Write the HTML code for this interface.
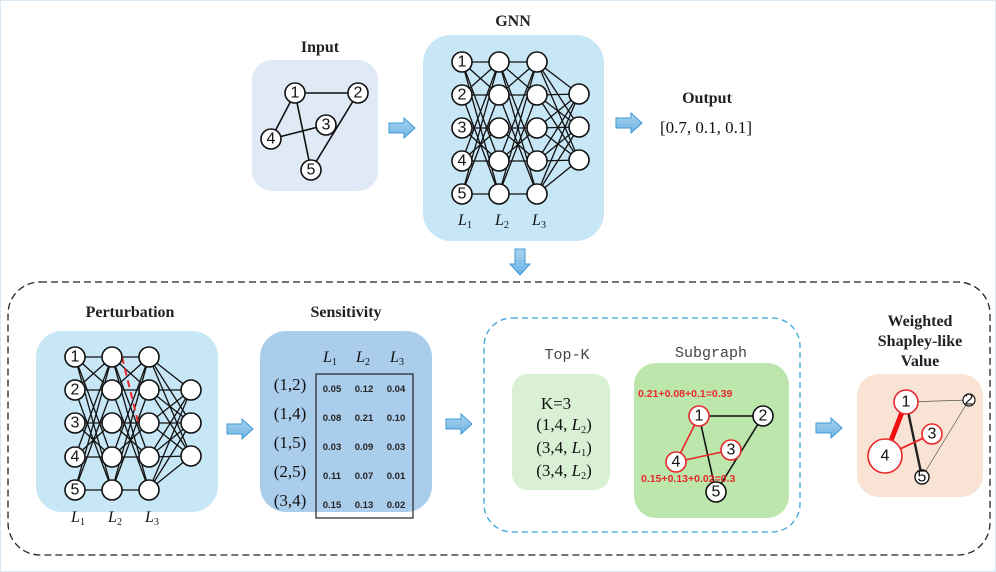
<!DOCTYPE html>
<html><head><meta charset="utf-8"><style>
html,body{margin:0;padding:0;background:#fff;}
svg{display:block;font-family:"Liberation Sans",sans-serif;}
.t{font-family:"Liberation Serif",serif;font-weight:bold;font-size:16px;fill:#222;text-anchor:middle}
.n{fill:#fff;stroke:#111;stroke-width:1.6}
.nl{font-size:16px;text-anchor:middle;dominant-baseline:central;fill:#111}
.L{font-family:"Liberation Serif",serif;font-style:italic;font-size:16px;fill:#111;text-anchor:middle}
.v{font-size:9.5px;font-weight:bold;fill:#222;text-anchor:middle}
.r{font-family:"Liberation Serif",serif;font-size:17px;fill:#111;text-anchor:middle}
</style></head><body>
<svg id="s" width="996" height="572" viewBox="0 0 996 572">
<defs>
<linearGradient id="ag" x1="0" y1="0" x2="0" y2="1"><stop offset="0" stop-color="#a9d4f0"/><stop offset="1" stop-color="#6fb3e3"/></linearGradient>
<symbol id="arr" viewBox="0 0 28 22"><path d="M1 6 H16 V1 L27 11 L16 21 V16 H1 Z" fill="url(#ag)" stroke="#3d9ad6" stroke-width="1"/></symbol>
<symbol id="arrd" viewBox="0 0 22 28"><path d="M6 1 V16 H1 L11 27 L21 16 H16 V1 Z" fill="url(#ag)" stroke="#3d9ad6" stroke-width="1"/></symbol>
</defs>
<rect x="0.5" y="0.5" width="995" height="571" fill="none" stroke="#d8e8f4"/>
<text class="t" x="320" y="52">Input</text>
<rect x="252" y="60" width="126" height="131" rx="20" fill="#dfeaf6"/>
<g stroke="#111" stroke-width="1.6">
<line x1="295" y1="93" x2="358" y2="93"/><line x1="295" y1="93" x2="271" y2="139"/><line x1="295" y1="93" x2="311" y2="170"/><line x1="358" y1="93" x2="311" y2="170"/><line x1="271" y1="139" x2="326" y2="125"/>
</g>
<circle class="n" cx="295" cy="93" r="10"/><text class="nl" x="295" y="93">1</text>
<circle class="n" cx="358" cy="93" r="10"/><text class="nl" x="358" y="93">2</text>
<circle class="n" cx="326" cy="125" r="10"/><text class="nl" x="326" y="125">3</text>
<circle class="n" cx="271" cy="139" r="10"/><text class="nl" x="271" y="139">4</text>
<circle class="n" cx="311" cy="170" r="10"/><text class="nl" x="311" y="170">5</text>
<use href="#arr" x="388" y="117" width="28" height="22"/>
<text class="t" x="513" y="26">GNN</text>
<rect x="423" y="35" width="181" height="206" rx="28" fill="#c7e6f6"/>
<g id="gnnlines" stroke="#111" stroke-width="1.3"></g>
<g id="gnnnodes"></g>
<text class="nl" x="462" y="62">1</text><text class="nl" x="462" y="95">2</text><text class="nl" x="462" y="128">3</text><text class="nl" x="462" y="161">4</text><text class="nl" x="462" y="194">5</text>
<text class="L" x="465" y="225">L<tspan font-size="10" font-style="normal" dy="3">1</tspan></text>
<text class="L" x="502" y="225">L<tspan font-size="10" font-style="normal" dy="3">2</tspan></text>
<text class="L" x="539" y="225">L<tspan font-size="10" font-style="normal" dy="3">3</tspan></text>
<use href="#arr" x="615" y="112" width="28" height="22"/>
<text class="t" x="707" y="103">Output</text>
<text class="r" x="706" y="133">[0.7, 0.1, 0.1]</text>
<use href="#arrd" x="509" y="248" width="22" height="28"/>
<rect x="8" y="282" width="982" height="273" rx="32" fill="none" stroke="#222" stroke-width="1.3" stroke-dasharray="7,4"/>
<text class="t" x="130" y="317">Perturbation</text>
<rect x="36" y="331" width="182" height="181" rx="26" fill="#c7e6f6"/>
<g id="plines" stroke="#111" stroke-width="1.3"></g>
<line x1="122" y1="357" x2="138" y2="422" stroke="#e8282a" stroke-width="2" stroke-dasharray="7,5"/>
<g id="pnodes"></g>
<text class="nl" x="75" y="357">1</text><text class="nl" x="75" y="390">2</text><text class="nl" x="75" y="423">3</text><text class="nl" x="75" y="457">4</text><text class="nl" x="75" y="490">5</text>
<text class="L" x="78" y="522">L<tspan font-size="10" font-style="normal" dy="3">1</tspan></text>
<text class="L" x="115" y="522">L<tspan font-size="10" font-style="normal" dy="3">2</tspan></text>
<text class="L" x="152" y="522">L<tspan font-size="10" font-style="normal" dy="3">3</tspan></text>
<use href="#arr" x="226" y="418" width="28" height="22"/>
<text class="t" x="346" y="317">Sensitivity</text>
<rect x="260" y="331" width="172" height="181" rx="26" fill="#abcdec"/>
<text class="L" x="330" y="362">L<tspan font-size="10" font-style="normal" dy="3">1</tspan></text>
<text class="L" x="363" y="362">L<tspan font-size="10" font-style="normal" dy="3">2</tspan></text>
<text class="L" x="397" y="362">L<tspan font-size="10" font-style="normal" dy="3">3</tspan></text>
<rect x="316" y="374" width="97" height="144" fill="none" stroke="#222" stroke-width="1.2"/>
<g class="r"><text x="290" y="390">(1,2)</text><text x="290" y="419">(1,4)</text><text x="290" y="448">(1,5)</text><text x="290" y="477">(2,5)</text><text x="290" y="506">(3,4)</text></g>
<g class="v">
<text x="332" y="392">0.05</text><text x="364" y="392">0.12</text><text x="396" y="392">0.04</text>
<text x="332" y="421">0.08</text><text x="364" y="421">0.21</text><text x="396" y="421">0.10</text>
<text x="332" y="450">0.03</text><text x="364" y="450">0.09</text><text x="396" y="450">0.03</text>
<text x="332" y="479">0.11</text><text x="364" y="479">0.07</text><text x="396" y="479">0.01</text>
<text x="332" y="508">0.15</text><text x="364" y="508">0.13</text><text x="396" y="508">0.02</text>
</g>
<use href="#arr" x="445" y="413" width="28" height="22"/>
<rect x="484" y="318" width="316" height="214" rx="28" fill="none" stroke="#3aa5d8" stroke-width="1.3" stroke-dasharray="6,4"/>
<text x="567" y="359" font-family="Liberation Mono,monospace" font-size="15" fill="#444" text-anchor="middle">Top-K</text>
<rect x="512" y="374" width="98" height="116" rx="16" fill="#d9f0d4"/>
<text x="556" y="409" class="r" font-size="20">K=3</text>
<g class="r" font-size="16"><text x="564" y="430">(1,4, <tspan font-style="italic">L</tspan><tspan font-size="10" dy="3">2</tspan><tspan dy="-3">)</tspan></text>
<text x="564" y="453">(3,4, <tspan font-style="italic">L</tspan><tspan font-size="10" dy="3">1</tspan><tspan dy="-3">)</tspan></text>
<text x="564" y="476">(3,4, <tspan font-style="italic">L</tspan><tspan font-size="10" dy="3">2</tspan><tspan dy="-3">)</tspan></text></g>
<text x="711" y="357" font-family="Liberation Mono,monospace" font-size="15" fill="#444" text-anchor="middle">Subgraph</text>
<rect x="634" y="363" width="155" height="155" rx="22" fill="#bde6ad"/>
<g stroke-width="1.6">
<line x1="699" y1="416" x2="763" y2="416" stroke="#111"/><line x1="699" y1="416" x2="716" y2="492" stroke="#111"/><line x1="763" y1="416" x2="716" y2="492" stroke="#111"/>
<line x1="699" y1="416" x2="676" y2="462" stroke="#e8282a"/><line x1="676" y1="462" x2="731" y2="450" stroke="#e8282a"/>
</g>
<circle cx="699" cy="416" r="10" fill="#fff" stroke="#e8282a" stroke-width="1.6"/><text class="nl" x="699" y="416">1</text>
<circle class="n" cx="763" cy="416" r="10"/><text class="nl" x="763" y="416">2</text>
<circle cx="731" cy="450" r="10" fill="#fff" stroke="#e8282a" stroke-width="1.6"/><text class="nl" x="731" y="450">3</text>
<circle cx="676" cy="462" r="10" fill="#fff" stroke="#e8282a" stroke-width="1.6"/><text class="nl" x="676" y="462">4</text>
<circle class="n" cx="716" cy="492" r="10"/><text class="nl" x="716" y="492">5</text>
<text x="638" y="397" font-size="10.5" font-weight="bold" fill="#e8282a">0.21+0.08+0.1=0.39</text>
<text x="641" y="482" font-size="10.5" font-weight="bold" fill="#e8282a">0.15+0.13+0.02=0.3</text>
<use href="#arr" x="815" y="417" width="28" height="22"/>
<text class="t" x="920" y="326">Weighted</text>
<text class="t" x="920" y="346">Shapley-like</text>
<text class="t" x="920" y="366">Value</text>
<rect x="857" y="374" width="126" height="123" rx="22" fill="#f9e3d4"/>
<line x1="906" y1="402" x2="969" y2="400" stroke="#555" stroke-width="0.7"/>
<line x1="969" y1="400" x2="922" y2="477" stroke="#555" stroke-width="0.7"/>
<line x1="906" y1="402" x2="922" y2="477" stroke="#222" stroke-width="2.4"/>
<line x1="906" y1="402" x2="885" y2="456" stroke="#f01010" stroke-width="5"/>
<line x1="885" y1="456" x2="932" y2="434" stroke="#e8282a" stroke-width="1.8"/>
<circle cx="906" cy="402" r="12" fill="#fff" stroke="#e8282a" stroke-width="1.6"/><text class="nl" x="906" y="402">1</text>
<circle cx="969" cy="400" r="6" fill="#fff" stroke="#111" stroke-width="1.2"/><text class="nl" x="969" y="400" font-size="9">2</text>
<circle cx="932" cy="434" r="10" fill="#fff" stroke="#e8282a" stroke-width="1.6"/><text class="nl" x="932" y="434">3</text>
<circle cx="885" cy="456" r="17" fill="#fff" stroke="#e8282a" stroke-width="1.6"/><text class="nl" x="885" y="456" font-size="17">4</text>
<circle cx="922" cy="477" r="7" fill="#fff" stroke="#111" stroke-width="1.4"/><text class="nl" x="922" y="477" font-size="10">5</text>
</svg>
<script>
(function(){
var NS="http://www.w3.org/2000/svg";
var adj=[[0,1,3,4],[1,0,4],[2,3],[3,0,2],[4,0,1]];
function net(lg,ng,xs,ys,oys,r){
  var L=document.getElementById(lg),N=document.getElementById(ng);
  function ln(a,b,c,d){var e=document.createElementNS(NS,"line");e.setAttribute("x1",a);e.setAttribute("y1",b);e.setAttribute("x2",c);e.setAttribute("y2",d);L.appendChild(e);}
  for(var l=0;l<2;l++)for(var i=0;i<5;i++)adj[i].forEach(function(j){ln(xs[l],ys[i],xs[l+1],ys[j]);});
  for(var i=0;i<5;i++)for(var k=0;k<3;k++)ln(xs[2],ys[i],xs[3],oys[k]);
  function c(x,y){var e=document.createElementNS(NS,"circle");e.setAttribute("cx",x);e.setAttribute("cy",y);e.setAttribute("r",r);e.setAttribute("class","n");N.appendChild(e);}
  for(var l=0;l<3;l++)for(var i=0;i<5;i++)c(xs[l],ys[i]);
  oys.forEach(function(y){c(xs[3],y);});
}
net("gnnlines","gnnnodes",[462,499,537,579],[62,95,128,161,194],[94,127,160],10);
net("plines","pnodes",[75,112,149,191],[357,390,423,457,490],[390,423,456],10);
})();
</script>
</body></html>
